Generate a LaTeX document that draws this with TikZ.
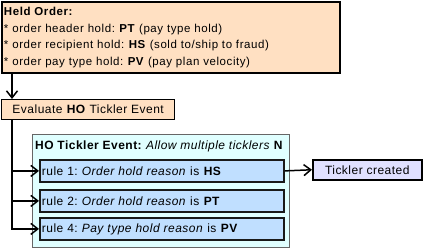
\documentclass[tikz,border=0pt]{standalone}
\usepackage{fontspec}
\setmainfont{Liberation Sans}
\usetikzlibrary{arrows.meta}
\frenchspacing
\definecolor{peach}{HTML}{FFE0C2}
\definecolor{rulebl}{HTML}{C0DFFF}
\definecolor{contcy}{HTML}{E0FFFF}
\definecolor{lavend}{HTML}{E0E0FF}
\newfontfamily\widefont[LetterSpace=4]{Liberation Sans}
\newfontfamily\heldfont[LetterSpace=5]{Liberation Sans}
\tikzset{
  txt/.style={font=\heldfont\fontsize{11.5}{16.7}\selectfont},
  wtxt/.style={font=\widefont\fontsize{12}{14}\selectfont},
  rtxt/.style={font=\widefont\fontsize{12}{14}\selectfont},
  heldbox/.style={txt, draw=black, line width=2, fill=peach, anchor=north west, inner xsep=2, inner ysep=0, text width=334, minimum height=71, align=left},
  evalbox/.style={wtxt, draw=black, line width=1.3, fill=peach, anchor=north west, inner sep=0, minimum width=173, minimum height=20},
  contbox/.style={draw=black!60, line width=1, fill=contcy, anchor=north west, inner sep=0, minimum width=257, minimum height=113},
  rulebox/.style={rtxt, draw=black!90, line width=1.8, fill=rulebl, anchor=north west, inner xsep=2, inner ysep=0, text width=240, minimum height=22, align=left},
  tickbox/.style={wtxt, draw=black, line width=1.5, fill=lavend, anchor=north west, inner sep=0, minimum width=109, minimum height=20},
  hdr/.style={wtxt, anchor=west, inner sep=0},
  arr/.style={line width=1.5, -{Straight Barb[length=7pt,width=11pt,line width=1.5pt]}},
}
\begin{document}
\begin{tikzpicture}[x=1pt,y=-1pt]
\useasboundingbox (0,0) rectangle (424,250);
\node[heldbox] (held) at (1,1) {\textbf{Held Order:}\\
\relax* order header hold: \textbf{PT} (pay type hold)\\
\relax* order recipient hold: \textbf{HS} (sold to/ship to fraud)\\
\relax* order pay type hold: \textbf{PV} (pay plan velocity)};
\node[evalbox] (eval) at (1,99) {Evaluate \textbf{HO} Tickler Event};
\node[contbox] (cont) at (32,134) {};
\node[hdr] (head) at (35,146) {\textbf{HO Tickler Event:} \textit{Allow multiple ticklers} \textbf{N}};
\node[rulebox] (r1) at (39,159) {rule 1: \textit{Order hold reason} is \textbf{HS}};
\node[rulebox] (r2) at (39,189) {rule 2: \textit{Order hold reason} is \textbf{PT}};
\node[rulebox] (r4) at (39,217) {rule 4: \textit{Pay type hold reason} is \textbf{PV}};
\node[tickbox] (tc) at (312,159) {Tickler created};
\draw[arr] ([xshift=11]held.south west) -- ([xshift=11]eval.north west);
\draw[arr] ([xshift=11]eval.south west) |- (r1.west);
\draw[arr] ([xshift=11]eval.south west) |- (r2.west);
\draw[arr] ([xshift=11]eval.south west) |- (r4.west);
\draw[arr] (r1.east) -- (tc.west);
\end{tikzpicture}
\end{document}
